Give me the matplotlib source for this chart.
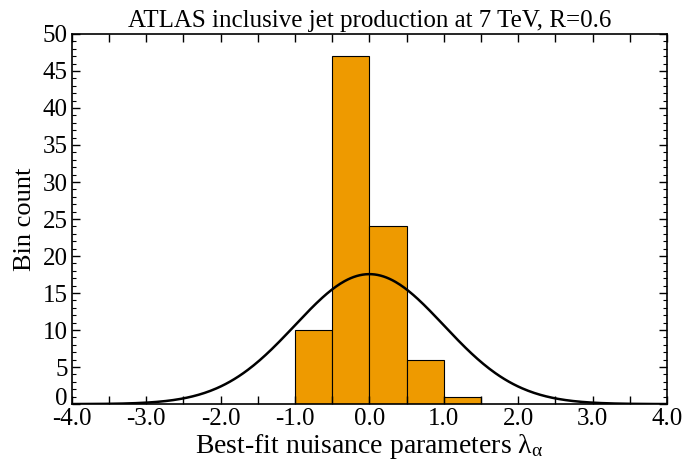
import numpy as np
import matplotlib.pyplot as plt
from matplotlib.ticker import MultipleLocator, FuncFormatter

plt.rcParams['font.family'] = ['Liberation Serif', 'DejaVu Serif']
plt.rcParams['mathtext.fontset'] = 'custom'
plt.rcParams['mathtext.rm'] = 'Liberation Serif'
plt.rcParams['mathtext.it'] = 'Liberation Serif'

# histogram of best-fit nuisance parameters
bin_edges = [-1.0, -0.5, 0.0, 0.5, 1.0, 1.5]
counts = [10, 47, 24, 6, 1]
bin_width = 0.5

# expected unit gaussian, normalised to the histogram
x = np.linspace(-4.0, 4.0, 400)
gauss = sum(counts) * bin_width * np.exp(-0.5 * x**2) / np.sqrt(2 * np.pi)

fig = plt.figure(figsize=(6.84, 4.65), dpi=100)
ax = fig.add_axes([0.105, 0.131, 0.87, 0.796])

ax.bar(bin_edges[:-1], counts, width=bin_width, align='edge',
       color='#EE9A00', edgecolor='black', linewidth=0.8)
ax.plot(x, gauss, color='black', lw=1.8)

ax.set_xlim(-4.0, 4.0)
ax.set_ylim(0, 50)
ax.xaxis.set_major_locator(MultipleLocator(0.5))
ax.xaxis.set_major_formatter(FuncFormatter(
    lambda v, p: '%.1f' % v if abs(v - round(v)) < 1e-6 else ''))
ax.yaxis.set_major_locator(MultipleLocator(5))
ax.yaxis.set_minor_locator(MultipleLocator(1))
# "0" is drawn separately a bit higher, so it stays clear of "-4.0"
ax.yaxis.set_major_formatter(FuncFormatter(lambda v, p: '' if v == 0 else '%d' % v))
ax.annotate('0', xy=(0, 0), xycoords='axes fraction', xytext=(-3, 4),
            textcoords='offset points', ha='right', va='center', fontsize=18)
ax.tick_params(direction='in', top=True, right=True, labelsize=18, pad=3)
ax.tick_params(which='major', length=6, width=1)
ax.tick_params(which='minor', length=3, width=0.8, top=True, right=True, direction='in')
for s in ax.spines.values():
    s.set_linewidth(1.2)

ax.set_title('ATLAS inclusive jet production at 7 TeV, R=0.6', fontsize=18, pad=5)
ax.set_xlabel(r'Best-fit nuisance parameters $\lambda_\alpha$', fontsize=20, labelpad=1)
ax.set_ylabel('Bin count', fontsize=19, labelpad=5)

fig.savefig('out.png', dpi=100)
